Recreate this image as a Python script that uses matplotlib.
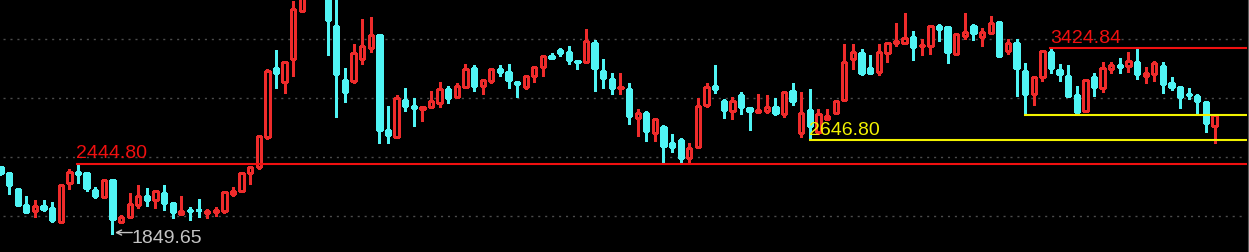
import matplotlib
matplotlib.use('Agg')
import matplotlib.pyplot as plt

# ---- data ----
opens = [2415, 2364, 2229, 2093, 2042, 2085, 2068, 1949, 2280, 2373,
         2364, 2220, 2161, 2305, 1949, 1991, 2093, 2169, 2136, 2195,
         2110, 2017, 2051, 2051, 2025, 2034, 2042, 2186, 2212, 2364,
         2415, 2669, 3254, 3136, 3331, 3737, 3860, 3950, 3875, 3610,
         3153, 3144, 3331, 3424, 3534, 2729, 2669, 2983, 2932, 2907,
         2924, 2958, 3076, 3008, 3093, 3254, 3102, 3144, 3246, 3220,
         3136, 3093, 3186, 3263, 3356, 3407, 3390, 3314, 3305, 3466,
         3229, 3161, 3085, 3076, 2830, 2873, 2703, 2754, 2619, 2644,
         2491, 2585, 2941, 3102, 2975, 2890, 3025, 2915, 2881, 2890,
         2924, 2864, 3059, 2703, 2898, 2712, 2822, 2873, 2983, 3331,
         3381, 3254, 3220, 3381, 3466, 3466, 3517, 3441, 3441, 3610,
         3602, 3373, 3525, 3610, 3517, 3551, 3644, 3398, 3466, 3229,
         3034, 3178, 3390, 3237, 3186, 3025, 2890, 3178, 3085, 3246,
         3280, 3271, 3305, 3186, 3203, 3271, 3127, 3093, 3034, 3017,
         2966, 2763]
highs = [2424, 2373, 2237, 2169, 2136, 2136, 2119, 2271, 2398, 2444.80,
         2369, 2246, 2314, 2314, 2008, 2195, 2263, 2237, 2220, 2263,
         2110, 2169, 2076, 2144, 2059, 2076, 2208, 2246, 2373, 2424,
         2686, 3246, 3407, 3314, 3822, 3900, 3960, 3990, 3900, 3835,
         3254, 3458, 3670, 3686, 3534, 2932, 3025, 3085, 3000, 2932,
         3059, 3136, 3102, 3127, 3288, 3280, 3161, 3254, 3280, 3288,
         3144, 3195, 3271, 3364, 3381, 3424, 3441, 3314, 3585, 3492,
         3331, 3212, 3212, 3127, 2907, 2890, 2830, 2771, 2695, 2661,
         2619, 3000, 3127, 3280, 2992, 3008, 3051, 2924, 3034, 3025,
         3000, 3051, 3127, 3051, 3076, 2907, 2907, 2983, 3458, 3458,
         3415, 3364, 3458, 3475, 3636, 3720, 3568, 3500, 3619, 3627,
         3602, 3551, 3720, 3627, 3593, 3695, 3644, 3500, 3500, 3297,
         3186, 3407, 3424.84, 3288, 3280, 3102, 3161, 3212, 3305, 3305,
         3339, 3390, 3415, 3263, 3314, 3305, 3178, 3102, 3085, 3034,
         2975, 2856]
lows = [2347, 2186, 2085, 2025, 1991, 2042, 1949, 1941, 2229, 2280,
        2212, 2152, 2152, 1849.65, 1941, 1983, 2068, 2085, 2068, 2051,
        1983, 2008, 1966, 1991, 1983, 2000, 2025, 2169, 2203, 2271,
        2398, 2653, 3085, 3042, 3186, 3729, 3840, 3850, 3364, 2839,
        2966, 3127, 3288, 3390, 2619, 2619, 2669, 2890, 2763, 2805,
        2924, 2924, 2958, 3008, 3085, 3059, 3034, 3127, 3186, 3085,
        3008, 3076, 3136, 3186, 3331, 3356, 3288, 3246, 3305, 3059,
        3085, 3034, 3034, 2780, 2678, 2636, 2636, 2449, 2542, 2449,
        2449, 2585, 2924, 3042, 2831, 2822, 2864, 2729, 2881, 2873,
        2856, 2839, 2941, 2669, 2646.80, 2695, 2814, 2864, 2983, 3246,
        3195, 3212, 3195, 3305, 3441, 3458, 3322, 3364, 3373, 3483,
        3297, 3364, 3500, 3492, 3441, 3551, 3347, 3373, 3017, 2859,
        2941, 3144, 3212, 3144, 3008, 2873, 2890, 3017, 3051, 3212,
        3212, 3220, 3161, 3127, 3144, 3042, 3068, 2915, 2992, 2864,
        2712, 2619]
closes = [2364, 2263, 2093, 2034, 2085, 2059, 1966, 2263, 2373, 2360,
          2237, 2169, 2305, 1974, 1991, 2102, 2169, 2136, 2212, 2110,
          2034, 2042, 2042, 2047, 2042, 2051, 2203, 2212, 2364, 2415,
          2678, 3229, 3212, 3305, 3754, 3870, 3930, 3880, 3661, 3203,
          3051, 3381, 3441, 3534, 2729, 2686, 3000, 2932, 2915, 2924,
          2975, 3076, 3000, 3102, 3246, 3102, 3153, 3246, 3220, 3153,
          3119, 3186, 3263, 3356, 3339, 3381, 3322, 3305, 3483, 3254,
          3170, 3085, 3093, 2847, 2873, 2720, 2822, 2593, 2585, 2491,
          2576, 2932, 3093, 3076, 2898, 2975, 2924, 2890, 2898, 2924,
          2873, 3051, 2975, 2873, 2763, 2864, 2847, 2975, 3305, 3390,
          3212, 3212, 3390, 3466, 3483, 3508, 3432, 3449, 3610, 3585,
          3390, 3542, 3559, 3551, 3559, 3636, 3356, 3466, 3254, 3034,
          3178, 3398, 3254, 3203, 3017, 2881, 3153, 3093, 3254, 3280,
          3263, 3314, 3203, 3212, 3297, 3119, 3093, 3008, 3025, 2975,
          2788, 2856]

grid_levels = [2000, 2500, 3000, 3500]

# marked levels: (candle index where the line starts, price, label)
red_level_low = (9, 2444.80, "2444.80")
red_level_high = (122, 3424.84, "3424.84")
yellow_level_low = (94, 2646.80, "2646.80")
yellow_level_mid = (119, 2859, None)
low_mark = (13, 1849.65, "1849.65")

RED = '#ee2b2b'
CYAN = '#50f4f4'
LINE_RED = '#f01010'
YELLOW = '#f2f200'
GRAY_TXT = '#c4c4c4'
FONT = 'Liberation Sans'
FS = 14

fig = plt.figure(figsize=(12.49, 2.52), dpi=100, facecolor='black')
ax = fig.add_axes([0, 0, 1, 1])
ax.set_facecolor('black')
ax.set_xlim(-0.058, 145.0)
ax.set_ylim(1694.8, 3830.5)
ax.axis('off')

# dotted grid
for g in grid_levels:
    ax.hlines(g, 0.3, 144.6, colors='#4c4c4c', linestyles=(0, (1.5, 3.5)), lw=1.0, zorder=0)

# candles
n = len(opens)
w = 0.5
for i in range(n):
    o, h, l, c = opens[i], highs[i], lows[i], closes[i]
    top, bot = max(o, c), min(o, c)
    if c >= o:
        ax.vlines(i, top, h, color=RED, lw=0.9, antialiased=False, zorder=2)
        ax.vlines(i, l, bot, color=RED, lw=0.9, antialiased=False, zorder=2)
        ax.bar(i, top - bot, bottom=bot, width=w, facecolor='black',
               edgecolor=RED, linewidth=0.9, antialiased=False, zorder=3)
    else:
        ax.vlines(i, l, h, color=CYAN, lw=0.9, antialiased=False, zorder=2)
        ax.bar(i, top - bot, bottom=bot, width=w, facecolor=CYAN,
               edgecolor=CYAN, linewidth=0.9, antialiased=False, zorder=3)

x_end = 144.75

# horizontal levels
for idx, lvl, lab in (red_level_low, red_level_high):
    ax.hlines(lvl, idx - 0.2, x_end, colors=LINE_RED, lw=1.5, zorder=4)
for idx, lvl, lab in (yellow_level_low, yellow_level_mid):
    ax.hlines(lvl, idx - 0.1, x_end, colors=YELLOW, lw=1.5, zorder=4)

ax.text(red_level_low[0] - 0.2, red_level_low[1] + 45, red_level_low[2], color=LINE_RED,
        fontsize=FS, family=FONT, ha='left', va='baseline', zorder=5)
ax.text(red_level_high[0] - 0.05, red_level_high[1] + 45, red_level_high[2], color=LINE_RED,
        fontsize=FS, family=FONT, ha='left', va='baseline', zorder=5)
ax.text(yellow_level_low[0] - 0.15, yellow_level_low[1] + 40, yellow_level_low[2], color=YELLOW,
        fontsize=FS, family=FONT, ha='left', va='baseline', zorder=5)

# low marker
ax.annotate('', xy=(low_mark[0] + 0.3, low_mark[1] + 10), xytext=(low_mark[0] + 2.3, low_mark[1] + 10),
            arrowprops=dict(arrowstyle='->', color=GRAY_TXT, lw=1.0, shrinkA=0, shrinkB=0,
                            mutation_scale=9), zorder=5)
ax.text(low_mark[0] + 2.25, low_mark[1] - 78, low_mark[2], color=GRAY_TXT,
        fontsize=FS, family=FONT, ha='left', va='baseline', zorder=5)

# right border strip
ax.axvline(144.85, color='#5a5a5a', lw=0.8)
ax.bar(144.95, 195, bottom=2305, width=0.2, color='#1c1c8a', zorder=1)

fig.savefig('out.png', dpi=100, facecolor='black')
